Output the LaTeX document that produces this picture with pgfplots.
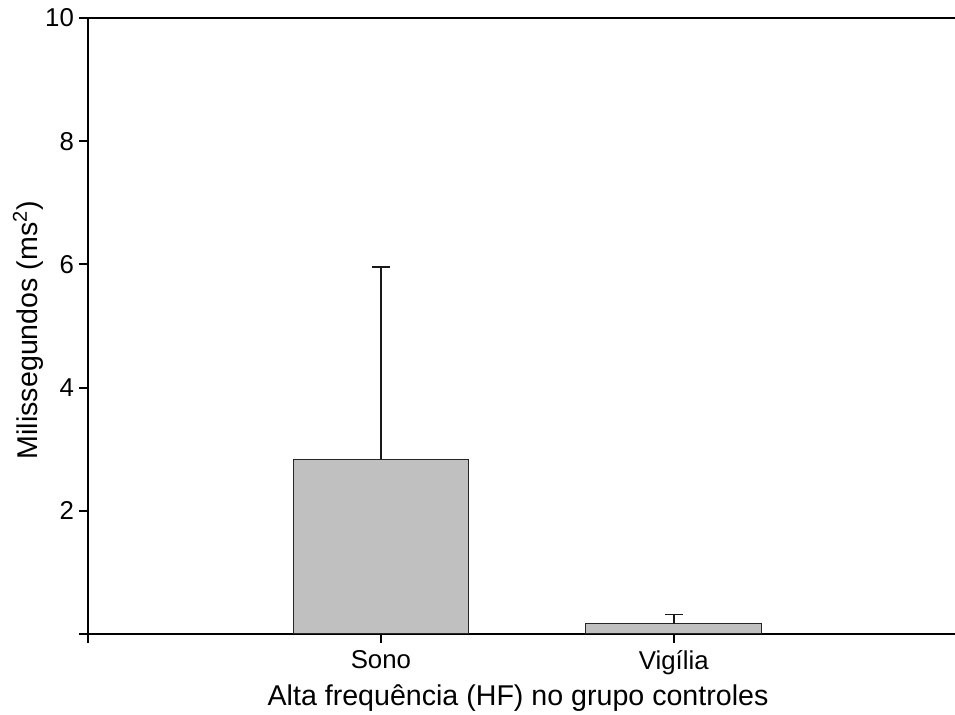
\documentclass[border=0pt]{standalone}
\usepackage{pgfplots}
\pgfplotsset{compat=1.18}
\usepackage{fontspec}
\setmainfont{Liberation Sans}

\begin{document}
\begin{tikzpicture}
\begin{axis}[
  scale only axis,
  width=433.5pt, height=308pt,
  xmin=0, xmax=2.96,
  ymin=0, ymax=10,
  axis lines=left,
  axis line style={-, line width=1pt, black},
  tick align=outside,
  major tick length=4.5pt,
  tick style={line width=1pt, black},
  xtick={0,1,2},
  xticklabels={,Sono,Vigília},
  ytick={0,2,4,6,8,10},
  yticklabels={,2,4,6,8,10},
  /pgf/number format/assume math mode=true,
  tick label style={font=\fontsize{12.9}{15}\selectfont},
  yticklabel style={xshift=1pt},
  xlabel={Alta frequência (HF) no grupo controles},
  ylabel={Milissegundos (ms\textsuperscript{2})},
  every axis x label/.style={at={(axis description cs:0.496,-0.1153)}, anchor=base,
    font=\fontsize{14.3}{17}\selectfont},
  every axis y label/.style={at={(axis description cs:-0.0692,0.4935)}, anchor=center, rotate=90,
    font=\fontsize{14.3}{17}\selectfont},
]
\addplot[ybar, bar width=0.6, fill={rgb,255:red,192;green,192;blue,192}, draw=black!85, line width=0.5pt,
  error bars/.cd, y dir=plus, y explicit,
  error bar style={line width=0.75pt, black!90},
  error mark options={rotate=90, mark size=4.5pt, line width=0.75pt, black!90}]
  table[x=x, y=y, y error=e] {
    x  y     e
    1  2.84  3.12
    2  0.17  0.15
  };
\draw[line width=1pt] (rel axis cs:0,1) -- (rel axis cs:1,1);
\end{axis}
\pgfresetboundingbox
\path[use as bounding box] (-44pt,-40.5pt) rectangle (433.5pt,317pt);
\end{tikzpicture}
\end{document}
